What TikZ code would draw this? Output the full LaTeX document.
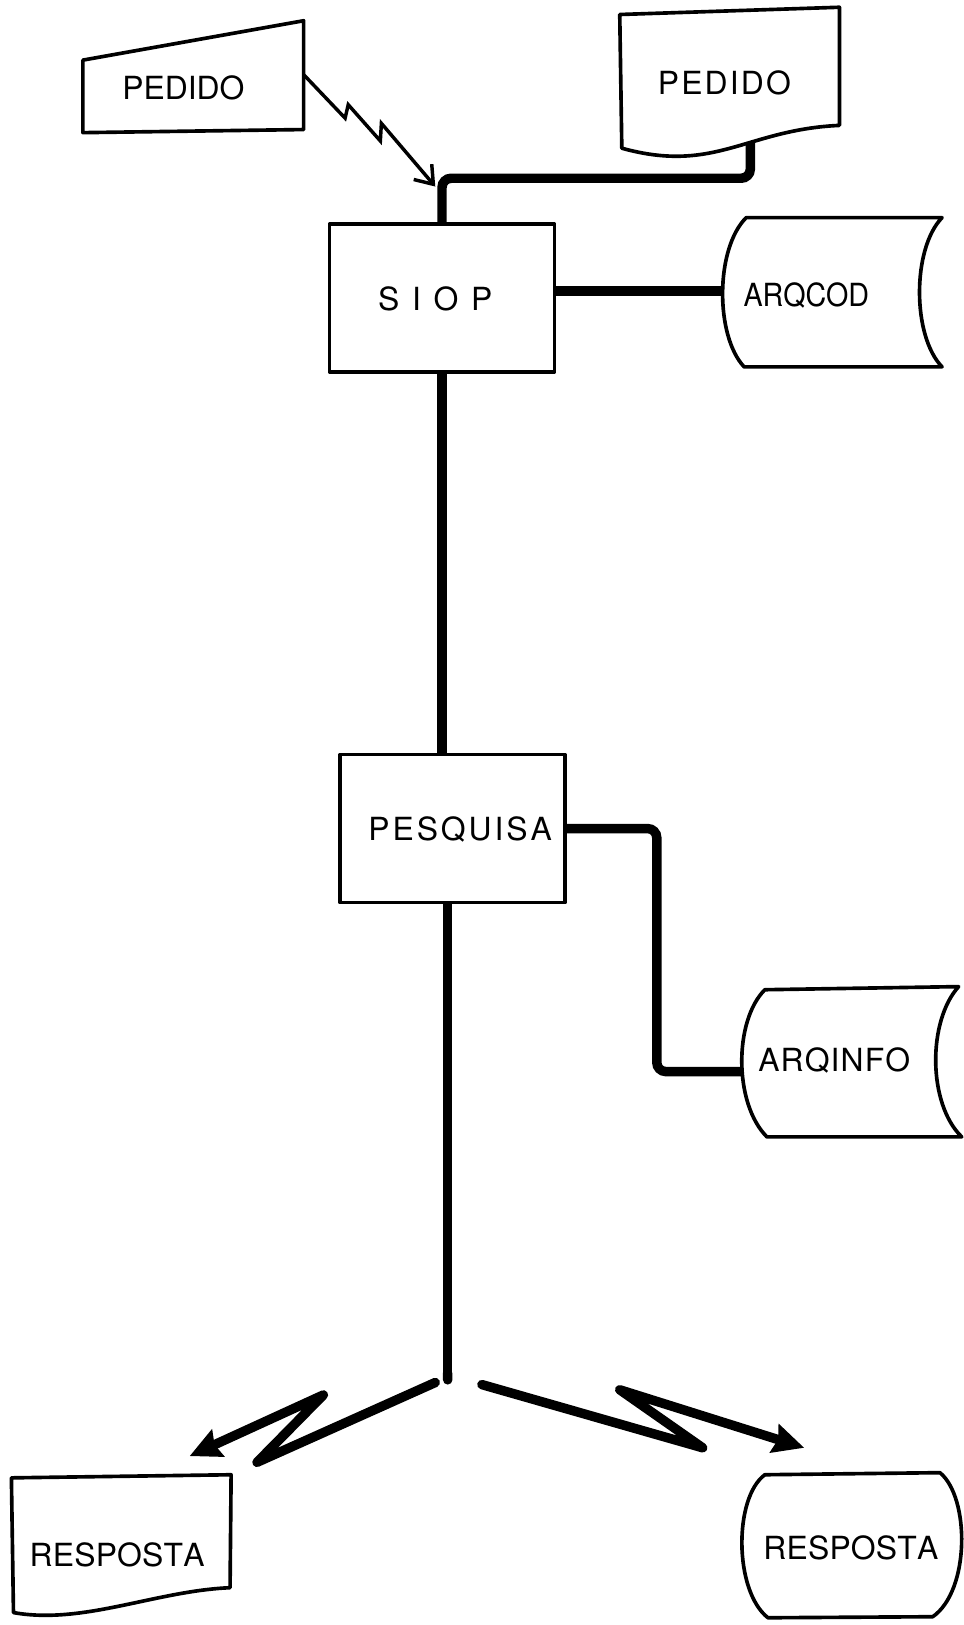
\documentclass[tikz,border=0pt]{standalone}
\usepackage{fontspec}
\setmainfont{TeX Gyre Heros}
\usetikzlibrary{arrows.meta}
\makeatletter
\newcommand\trk[2]{\def\trk@s{#1}\trk@loop#2\relax}
\def\trk@loop#1{\ifx#1\relax\kern-\trk@s\relax\else#1\kern\trk@s\relax\expandafter\trk@loop\fi}
\makeatother
\begin{document}
\begin{tikzpicture}[x=0.02cm,y=-0.02cm,
  outline/.style={line width=2pt, line join=round},
  flow/.style={line width=5.2pt, rounded corners=5pt},
  lbl/.style={font=\fontsize{17.5}{20}\selectfont, inner sep=0pt},
  procbox/.style={outline, draw, minimum width=4.34cm, minimum height=2.86cm, inner sep=0pt},
  bolt/.style={line width=1.9pt, line join=miter, -{Straight Barb[length=9pt,width=13pt]}},
  bigbolt/.style={line width=5.2pt, line cap=round, line join=round, -{Stealth[length=17pt,width=16pt,inset=2pt]}}]
\useasboundingbox (0,0) rectangle (930,1568);

% manual input PEDIDO
\draw[outline] (80,58) -- (293,20) -- (293,125) -- (80,128) -- cycle;
\node[lbl] (ped1) at (177,85) {\trk{0pt}{PEDIDO}};
\coordinate (ped1r) at (293,72);

% document PEDIDO
\draw[outline] (598,14) -- (810,7) -- (810,121) .. controls (720,125) and (690,168) .. (600,143) -- cycle;
\node[lbl] (ped2) at (699,80) {\trk{1.2pt}{PEDIDO}};
\coordinate (ped2b) at (724,138);

% SIOP
\node[procbox] (siop) at (426.5,287.5) {};
\node[lbl] (siopt) at (420,288) {\trk{7pt}{SIOP}};

% lightning into SIOP line
\coordinate (lt) at (420,180);
\draw[bolt] (ped1r) -- (333,114) -- (336,101) -- (367,136) -- (368,119) -- (lt);

% document to SIOP
\draw[flow] (ped2b) -- ++(0,34) -| (siop.north);

% ARQCOD
\draw[outline] (720,210) -- (909,210) .. controls (880,240) and (880,324) .. (909,354) -- (718,354) .. controls (690,324) and (690,240) .. (720,210) -- cycle;
\coordinate (arqcodL) at (697,281);
\node[lbl] (arqcod) at (778,285) {\scalebox{0.9}[1]{ARQCOD}};
\draw[flow] (siop.east |- arqcodL) -- (arqcodL);

% PESQUISA
\node[procbox] (pesq) at (436.5,799.5) {};
\node[lbl] (pesqt) at (444,800) {\trk{1.6pt}{PESQUISA}};
\draw[flow] (siop.south) -- (siop.south |- pesq.north);

% ARQINFO
\draw[outline] (738,955) -- (925,952) .. controls (895,985) and (895,1065) .. (928,1097) -- (740,1097) .. controls (708,1065) and (708,985) .. (738,955) -- cycle;
\coordinate (arqinfoL) at (715,1034);
\node[lbl] (arqinfo) at (805,1023) {\trk{0.6pt}{ARQINFO}};
\draw[flow] (pesq.east) -- ++(87,0) |- (arqinfoL);

% down to hub
\coordinate (hub) at (432,1336);
\draw[flow, -{Round Cap}] (hub |- pesq.south) -- (hub);

% RESPOSTA document
\draw[outline] (11,1426) -- (223,1423) -- (222,1532) .. controls (150,1535) and (80,1568) .. (13,1556) -- cycle;
\node[lbl] (resp1) at (113,1500) {\trk{0.1pt}{RESPOSTA}};

% RESPOSTA display
\draw[outline] (738,1423) -- (907,1421) .. controls (936,1445) and (936,1535) .. (900,1560) -- (741,1561) .. controls (708,1535) and (708,1445) .. (738,1423) -- cycle;
\node[lbl] (resp2) at (821,1494) {\trk{0.1pt}{RESPOSTA}};

% output lightnings
\coordinate (bl0) at (420,1334);
\coordinate (bl3) at (183,1405);
\draw[bigbolt] (bl0) -- (248,1411) -- (312,1346) -- (bl3);
\coordinate (br0) at (465,1336);
\coordinate (br3) at (776,1397);
\draw[bigbolt] (br0) -- (678,1397) -- (598,1341) -- (br3);
\end{tikzpicture}
\end{document}
